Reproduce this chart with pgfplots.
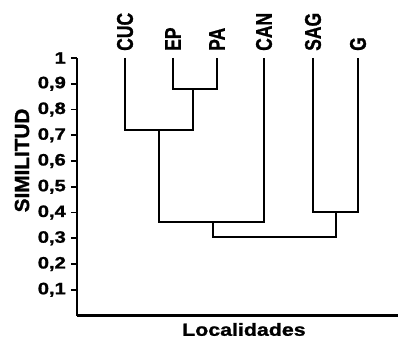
\documentclass[border=0pt]{standalone}
\usepackage{fontspec}
\setmainfont{Liberation Sans}[BoldFeatures={FakeBold=1.2}]
\usepackage{pgfplots}
\pgfplotsset{compat=1.18}
\newcommand{\tl}[1]{\scalebox{1.22}[1]{\fontsize{16.5}{16.5}\selectfont\bfseries #1}}
\newcommand{\leaf}[1]{\scalebox{1}[1.3]{\fontsize{17.5}{17.5}\selectfont\bfseries #1}}
\tikzset{dend/.style={black, line width=2.4pt, line join=miter, mark=none}}
\begin{document}
\begin{tikzpicture}
\begin{axis}[
  at={(0,0)}, anchor=south west,
  scale only axis, width=321pt, height=257.5pt,
  xmin=77, xmax=398, ymin=0, ymax=1,
  axis x line=bottom, axis y line=left,
  axis line style={-, line width=2.4pt, black},
  xtick=\empty,
  ytick={0.1,0.2,0.3,0.4,0.5,0.6,0.7,0.8,0.9,1},
  yticklabels={{\tl{0,1}},{\tl{0,2}},{\tl{0,3}},{\tl{0,4}},{\tl{0,5}},{\tl{0,6}},{\tl{0,7}},{\tl{0,8}},{\tl{0,9}},{\tl{1}}},
  tick align=outside, major tick length=6pt,
  every tick/.style={black, line width=1.8pt},
  yticklabel style={inner sep=0pt, xshift=-5pt},
  xlabel={\scalebox{1.22}[1]{\fontsize{17.5}{17.5}\selectfont\bfseries Localidades}},
  xlabel style={at={(axis description cs:0.52,0)}, anchor=center, yshift=-14pt, inner sep=0pt},
  ylabel={\scalebox{1.22}[1.2]{\fontsize{17}{17}\selectfont\bfseries SIMILITUD}},
  ylabel style={at={(axis description cs:0,0.602)}, anchor=center, yshift=55pt, inner sep=0pt},
  clip=false,
]
% EP - PA
\addplot[dend] coordinates {(173,1) (173,0.88) (217,0.88) (217,1)};
% CUC - (EP,PA)
\addplot[dend] coordinates {(125,1) (125,0.72) (193,0.72) (193,0.88)};
% (CUC,EP,PA) - CAN
\addplot[dend] coordinates {(159,0.72) (159,0.363) (264,0.363) (264,1)};
% SAG - G
\addplot[dend] coordinates {(313,1) (313,0.402) (358,0.402) (358,1)};
% root
\addplot[dend] coordinates {(213,0.363) (213,0.305) (336,0.305) (336,0.402)};
\foreach \x/\n in {125/CUC,173/EP,217/PA,264/CAN,313/SAG,358/G}{
  \edef\tmp{\noexpand\node[rotate=90, anchor=west, inner sep=0pt, xshift=7pt] at (axis cs:\x,1) {\noexpand\leaf{\n}};}
  \tmp
}
\end{axis}
\pgfresetboundingbox
\path[use as bounding box] (-77pt,-23.5pt) rectangle (321pt,315.5pt);
\end{tikzpicture}
\end{document}
